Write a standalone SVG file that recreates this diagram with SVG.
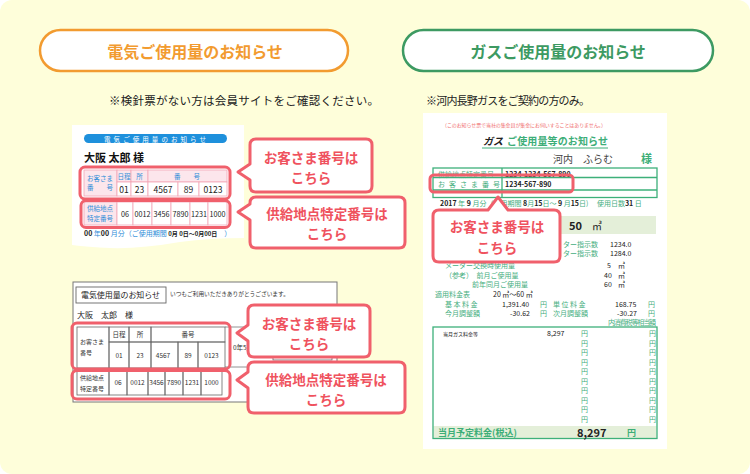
<svg xmlns="http://www.w3.org/2000/svg" width="750" height="474" viewBox="0 0 750 474">
<style>
text{font-family:"Noto Sans CJK JP","Noto Sans",sans-serif}
.hl{fill:none;stroke:#F0606C;stroke-width:3}
.co{fill:#fff;stroke:#F0606C;stroke-width:3;stroke-linejoin:round}
.cot{fill:#EF525E;font-size:13.5px;font-weight:bold;text-anchor:middle}
.gl{fill:none;stroke:#3DB07A;stroke-width:1.3}
.g{fill:#45AE7E;font-size:7px}
.k{fill:#222;font-size:7px}
.bl{fill:#2F8DD8}
.pk{fill:#FCE6EC;stroke:#F2A6B6;stroke-width:0.8}
.wc{fill:#fff;stroke:#F2A6B6;stroke-width:0.8}
.gc{fill:none;stroke:#666;stroke-width:0.8}
.v{fill:#222;font-size:8.5px;text-anchor:middle}
.vs{fill:#222;font-size:7.2px;text-anchor:middle}
.v2{fill:#333;font-size:6.5px;text-anchor:middle}
</style>
<rect width="750" height="474" fill="#fff"/>
<rect width="750" height="474" rx="12" fill="#FEFEDA"/>

<g id="head-electric">
<rect x="40" y="30" width="308" height="41" rx="20.5" fill="#fff" stroke="#F29B30" stroke-width="2.5"/>
<text x="195" y="58" text-anchor="middle" font-size="16" font-weight="bold" fill="#F29B30">電気ご使用量のお知らせ</text>
<text x="109" y="105" font-size="11.5" fill="#222" textLength="270">※検針票がない方は会員サイトをご確認ください。</text>
</g>
<g id="head-gas">
<rect x="403" y="30" width="310" height="41" rx="20.5" fill="#fff" stroke="#3D9A62" stroke-width="2.5"/>
<text x="558" y="58" text-anchor="middle" font-size="16" font-weight="bold" fill="#3D9A62">ガスご使用量のお知らせ</text>
<text x="426" y="105" font-size="11" fill="#222" textLength="164">※河内長野ガスをご契約の方のみ。</text>
</g>

<!-- electric receipt A -->
<g id="receipt-a">
<path d="M72,125 H244 V238 Q210,238 180,242 Q140,249 110,248 Q88,247 72,245 Z" fill="#fff"/>
<rect x="84" y="134" width="143" height="9" rx="4.5" fill="#1E90DC"/>
<text x="104" y="141.5" font-size="6.5" fill="#fff" textLength="102">電気ご使用量のお知らせ</text>
<text x="84" y="162" font-size="11" font-weight="bold" fill="#111">大阪 太郎 様</text>
<rect class="pk" x="84" y="170" width="33" height="26"/>
<rect class="pk" x="117" y="170" width="14" height="12"/>
<rect class="pk" x="131" y="170" width="17" height="12"/>
<rect class="pk" x="148" y="170" width="79" height="12"/>
<rect class="wc" x="117" y="182" width="14" height="14"/>
<rect class="wc" x="131" y="182" width="17" height="14"/>
<rect class="wc" x="148" y="182" width="30" height="14"/>
<rect class="wc" x="178" y="182" width="21" height="14"/>
<rect class="wc" x="199" y="182" width="28" height="14"/>
<text class="bl" x="87" y="181" font-size="6.5">お客さま</text>
<text class="bl" x="87" y="190" font-size="6.5">番　　号</text>
<text class="bl" x="124" y="179" font-size="6.5" text-anchor="middle">日程</text>
<text class="bl" x="139.5" y="179" font-size="6.5" text-anchor="middle">所</text>
<text class="bl" x="187" y="179" font-size="6.5" text-anchor="middle">番　　号</text>
<text class="v" x="124" y="193">01</text>
<text class="v" x="139.5" y="193">23</text>
<text class="v" x="163" y="193">4567</text>
<text class="v" x="188.5" y="193">89</text>
<text class="v" x="213" y="193">0123</text>
<rect class="pk" x="84" y="202" width="33" height="23"/>
<rect class="wc" x="117" y="202" width="16" height="23"/>
<rect class="wc" x="133" y="202" width="19" height="23"/>
<rect class="wc" x="152" y="202" width="19" height="23"/>
<rect class="wc" x="171" y="202" width="19" height="23"/>
<rect class="wc" x="190" y="202" width="18" height="23"/>
<rect class="wc" x="208" y="202" width="19" height="23"/>
<text class="bl" x="87" y="211" font-size="6.5">供給地点</text>
<text class="bl" x="87" y="221" font-size="6.5">特定番号</text>
<text class="vs" x="125" y="216.5" font-size="8">06</text>
<text class="vs" x="142.5" y="216.5">0012</text>
<text class="vs" x="161.5" y="216.5">3456</text>
<text class="vs" x="180.5" y="216.5">7890</text>
<text class="vs" x="199" y="216.5">1231</text>
<text class="vs" x="217.5" y="216.5">1000</text>
<text x="84" y="236" font-size="7"><tspan font-weight="bold" fill="#222">00 </tspan><tspan class="bl">年</tspan><tspan font-weight="bold" fill="#222">00 </tspan><tspan class="bl">月分（ご使用期間 </tspan><tspan font-weight="bold" fill="#222" font-size="6">0月 0日～0月00日</tspan><tspan class="bl">　）</tspan></text>
<rect class="hl" x="80" y="167" width="150" height="32" rx="5"/>
<rect class="hl" x="81" y="200.5" width="149" height="27" rx="5"/>
</g>

<!-- electric receipt B -->
<g id="receipt-b">
<rect x="73" y="282" width="264" height="120" fill="#fff" stroke="#777" stroke-width="1"/>
<rect x="76" y="287" width="90" height="16" fill="#fff" stroke="#666" stroke-width="0.9"/>
<text x="81" y="298" font-size="8" fill="#222" textLength="79">電気使用量のお知らせ</text>
<text x="170" y="296" font-size="5.7" fill="#333">いつもご利用いただきありがとうございます。</text>
<text x="77" y="318" font-size="8" fill="#222">大阪　太郎　様</text>
<line x1="225" y1="327" x2="337" y2="327" stroke="#777" stroke-width="0.8"/>
<line x1="225" y1="367" x2="337" y2="367" stroke="#777" stroke-width="0.8"/>
<rect class="gc" x="273" y="330" width="59" height="30"/>
<text x="233" y="350" font-size="6.5" fill="#333">0年5月</text>
<rect class="gc" x="77" y="327" width="32" height="41"/>
<rect class="gc" x="109" y="327" width="20" height="15"/>
<rect class="gc" x="129" y="327" width="22" height="15"/>
<rect class="gc" x="151" y="327" width="74" height="15"/>
<rect class="gc" x="109" y="342" width="20" height="26"/>
<rect class="gc" x="129" y="342" width="22" height="26"/>
<rect class="gc" x="151" y="342" width="27" height="26"/>
<rect class="gc" x="178" y="342" width="20" height="26"/>
<rect class="gc" x="198" y="342" width="27" height="26"/>
<text x="80" y="344" font-size="6" fill="#333">お客さま</text>
<text x="80" y="355" font-size="6" fill="#333">番号</text>
<text class="v2" x="119" y="337">日程</text>
<text class="v2" x="140" y="337">所</text>
<text class="v2" x="188" y="337">番号</text>
<text class="v2" x="119" y="358">01</text>
<text class="v2" x="140" y="358">23</text>
<text class="v2" x="163" y="358">4567</text>
<text class="v2" x="188" y="358">89</text>
<text class="v2" x="211.5" y="358">0123</text>
<rect class="gc" x="77" y="369" width="32" height="26"/>
<rect class="gc" x="109" y="369" width="18" height="26"/>
<rect class="gc" x="127" y="369" width="21" height="26"/>
<rect class="gc" x="148" y="369" width="17" height="26"/>
<rect class="gc" x="165" y="369" width="18" height="26"/>
<rect class="gc" x="183" y="369" width="18" height="26"/>
<rect class="gc" x="201" y="369" width="21" height="26"/>
<text x="80" y="380" font-size="6" fill="#333">供給地点</text>
<text x="80" y="391" font-size="6" fill="#333">特定番号</text>
<text class="v2" x="118" y="385">06</text>
<text class="v2" x="137.5" y="385">0012</text>
<text class="v2" x="156.5" y="385">3456</text>
<text class="v2" x="174" y="385">7890</text>
<text class="v2" x="192" y="385">1231</text>
<text class="v2" x="211.5" y="385">1000</text>
<rect class="hl" x="72" y="323" width="158" height="46" rx="5"/>
<rect class="hl" x="72" y="370.5" width="158" height="28.5" rx="5"/>
</g>

<!-- gas receipt -->
<g id="receipt-gas">
<rect x="423" y="113" width="244" height="336" fill="#fff"/>
<text x="442" y="127" font-size="5" fill="#F07070" textLength="164">（このお知らせ票で当社の集金員が集金にお伺いすることはありません。）</text>
<text x="483" y="145" font-size="10" font-style="italic" font-weight="bold" fill="#222">ガス</text>
<text x="507" y="145" font-size="10" font-weight="bold" fill="#3DAE78" textLength="101">ご使用量等のお知らせ</text>
<line x1="482" y1="148" x2="608" y2="148" stroke="#3DAE78" stroke-width="1"/>
<text x="553" y="163" font-size="10" fill="#444">河内　ふらむ</text>
<text x="641" y="163" font-size="11" font-weight="bold" fill="#3DAE78">様</text>
<rect class="gl" x="433" y="168" width="224" height="29.5"/>
<line class="gl" x1="433" y1="177.5" x2="657" y2="177.5"/>
<line class="gl" x1="433" y1="190" x2="657" y2="190"/>
<line class="gl" x1="502" y1="168" x2="502" y2="197.5"/>
<text class="g" x="438" y="177" font-size="6.5">供給地点特定番号</text>
<text class="k" x="505" y="177" font-weight="bold">1234-1234-567-890</text>
<text class="g" x="438" y="187" font-size="6.5" letter-spacing="4">お客さま番号</text>
<text class="k" x="505" y="187" font-weight="bold">1234-567-890</text>
<text x="440" y="206" font-size="7"><tspan fill="#222" font-weight="bold">2017 </tspan><tspan fill="#45AE7E">年 </tspan><tspan fill="#222" font-weight="bold">9 </tspan><tspan fill="#45AE7E">月分（使用期間 </tspan><tspan fill="#222" font-weight="bold">8</tspan><tspan fill="#45AE7E">月</tspan><tspan fill="#222" font-weight="bold">15</tspan><tspan fill="#45AE7E">日～ </tspan><tspan fill="#222" font-weight="bold">9 </tspan><tspan fill="#45AE7E">月</tspan><tspan fill="#222" font-weight="bold">15</tspan><tspan fill="#45AE7E">日)　 使用日数</tspan><tspan fill="#222" font-weight="bold">31 </tspan><tspan fill="#45AE7E">日</tspan></text>
<rect x="435" y="216" width="221" height="18" fill="#E4EFD9"/>
<text x="569" y="230" font-size="11" font-weight="bold" fill="#222">50</text>
<text x="592" y="230" font-size="10" fill="#222">㎥</text>
<text class="g" x="563" y="247">ター指示数</text>
<text class="k" x="610" y="247">1234.0</text>
<text class="g" x="563" y="256">ター指示数</text>
<text class="k" x="610" y="256">1284.0</text>
<text class="g" x="445" y="268">メーター交換時使用量</text>
<text class="k" x="607" y="268">5</text><text class="k" x="618" y="268">㎥</text>
<text class="g" x="445" y="278">（参考）　前月ご使用量</text>
<text class="k" x="604" y="278">40</text><text class="k" x="618" y="278">㎥</text>
<text class="g" x="472" y="287">前年同月ご使用量</text>
<text class="k" x="604" y="287">60</text><text class="k" x="618" y="287">㎥</text>
<text class="g" x="435" y="297">適用料金表</text>
<text class="k" x="493" y="297">20 ㎥～60 ㎥</text>
<text class="g" x="445" y="306.5" letter-spacing="1.5">基本料金</text>
<text class="k" x="502" y="306.5">1,391.40</text>
<text class="g" x="540" y="306.5">円</text>
<text class="g" x="553" y="306.5" letter-spacing="1.5">単位料金</text>
<text class="k" x="615" y="306.5">168.75</text>
<text class="g" x="648" y="306.5">円</text>
<text class="g" x="445" y="316">今月調整額</text>
<text class="k" x="510" y="316">-30.62</text>
<text class="g" x="540" y="316">円</text>
<text class="g" x="553" y="316">次月調整額</text>
<text class="k" x="617" y="316">-30.27</text>
<text class="g" x="648" y="316">円</text>
<text class="g" x="608" y="324.5" font-size="5.5" textLength="48">内消費税等相当額</text>
<rect x="433.5" y="426" width="223" height="12" fill="#E4EFD9"/>
<rect class="gl" x="433" y="327" width="224" height="111.5"/>
<text x="443" y="336" font-size="5" fill="#222">当月ガス料金等</text>
<text class="k" x="547" y="336">8,297</text>
<g class="g">
<text x="581" y="336">円</text><text x="649" y="336">円</text>
<text x="581" y="345.5">円</text><text x="649" y="345.5">円</text>
<text x="581" y="355">円</text><text x="649" y="355">円</text>
<text x="581" y="364.5">円</text><text x="649" y="364.5">円</text>
<text x="581" y="374">円</text><text x="649" y="374">円</text>
<text x="581" y="383.5">円</text><text x="649" y="383.5">円</text>
<text x="581" y="393">円</text><text x="649" y="393">円</text>
<text x="581" y="402.5">円</text><text x="649" y="402.5">円</text>
<text x="581" y="412">円</text><text x="649" y="412">円</text>
<text x="581" y="421.5">円</text><text x="649" y="421.5">円</text>
</g>
<text x="438" y="436" font-size="9" font-weight="bold" fill="#3DAE78">当月予定料金(税込)</text>
<text x="577" y="437" font-size="11" font-weight="bold" fill="#222">8,297</text>
<text x="627" y="436" font-size="9" font-weight="bold" fill="#3DAE78">円</text>
<rect class="hl" x="430" y="175" width="143" height="17" rx="4"/>
</g>

<g id="connectors"></g>

<g id="callout-a1">
<path class="co" d="M256,139 H366 Q372,139 372,145 V186 Q372,192 366,192 H256 Q250,192 250,186 V180 L238,172 L250,164 V145 Q250,139 256,139 Z"/>
<text class="cot" x="311" y="162.5">お客さま番号は</text>
<text class="cot" x="311" y="182.5">こちら</text>
</g>
<g id="callout-a2">
<path class="co" d="M256,197 H399 Q405,197 405,203 V242 Q405,248 399,248 H256 Q250,248 250,242 V220 L238,212 L250,204 V203 Q250,197 256,197 Z"/>
<text class="cot" x="327" y="218.5">供給地点特定番号は</text>
<text class="cot" x="327" y="238.5">こちら</text>
</g>
<g id="callout-b1">
<path class="co" d="M254,305 H364 Q370,305 370,311 V351 Q370,357 364,357 H254 Q248,357 248,351 V341 L237,333 L248,325 V311 Q248,305 254,305 Z"/>
<text class="cot" x="309" y="328.5">お客さま番号は</text>
<text class="cot" x="309" y="348.5">こちら</text>
</g>
<g id="callout-b2">
<path class="co" d="M254,362 H399 Q405,362 405,368 V407 Q405,413 399,413 H254 Q248,413 248,407 V388 L237,380 L248,372 V368 Q248,362 254,362 Z"/>
<text class="cot" x="326" y="384.5">供給地点特定番号は</text>
<text class="cot" x="326" y="404.5">こちら</text>
</g>
<g id="callout-gas">
<path class="co" d="M439,210 H488 L498,197 L508,210 H554 Q560,210 560,216 V256 Q560,262 554,262 H439 Q433,262 433,256 V216 Q433,210 439,210 Z"/>
<text class="cot" x="497" y="232" font-size="14.5">お客さま番号は</text>
<text class="cot" x="497" y="253" font-size="14.5">こちら</text>
</g>
</svg>
